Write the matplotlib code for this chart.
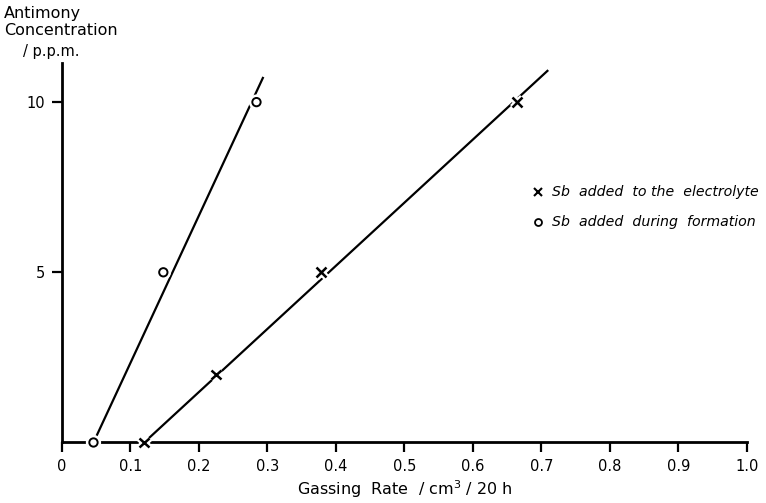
import matplotlib
matplotlib.use('Agg')
import matplotlib.pyplot as plt
import matplotlib.patheffects as pe

# Sb added to the electrolyte (x)
elec_x = [0.120, 0.225, 0.378, 0.664]
elec_y = [0, 2, 5, 10]
# Sb added during formation (o)
form_x = [0.046, 0.148, 0.284]
form_y = [0, 5, 10]

# drawn straight lines (end points)
elec_line_x = [0.120, 0.710]
elec_line_y = [0, 10.94]
form_line_x = [0.046, 0.294]
form_line_y = [0, 10.74]

xticks = [0, 0.1, 0.2, 0.3, 0.4, 0.5, 0.6, 0.7, 0.8, 0.9, 1.0]
xticklabels = ['0', '0.1', '0.2', '0.3', '0.4', '0.5', '0.6', '0.7', '0.8', '0.9', '1.0']
yticks = [5, 10]

plt.rcParams['font.family'] = ['DejaVu Sans']

fig = plt.figure(figsize=(7.66, 5.03), dpi=100)
ax = fig.add_axes([0.0809, 0.1203, 0.8941, 0.7545])

ax.plot(elec_line_x, elec_line_y, color='black', lw=1.6, solid_capstyle='butt')
ax.plot(form_line_x, form_line_y, color='black', lw=1.6, solid_capstyle='butt')

halo = [pe.withStroke(linewidth=5, foreground='white')]
ax.plot(elec_x, elec_y, ls='none', marker='x', ms=7, mew=1.8, color='black',
        path_effects=halo, clip_on=False, zorder=5)
ax.plot(form_x, form_y, ls='none', marker='o', ms=6, mew=1.4, mfc='white', mec='black',
        path_effects=halo, clip_on=False, zorder=5)

ax.set_xlim(0, 1.0)
ax.set_ylim(0, 11.15)
ax.set_xticks(xticks)
ax.set_xticklabels(xticklabels)
ax.set_yticks(yticks)
ax.tick_params(axis='both', direction='out', length=7, width=1.6, labelsize=10.5, pad=5)
for s in ['top', 'right']:
    ax.spines[s].set_visible(False)
for s in ['left', 'bottom']:
    ax.spines[s].set_linewidth(2)

ax.set_xlabel('Gassing  Rate  / cm$^{3}$ / 20 h', fontsize=11.5, labelpad=3)

fig.text(0.005, 0.988, 'Antimony\nConcentration', ha='left', va='top', fontsize=11.5, linespacing=1.2)
fig.text(0.030, 0.912, '/ p.p.m.', ha='left', va='top', fontsize=10.5)

# legend entries
ax.plot([0.695], [7.35], ls='none', marker='x', ms=5.5, mew=1.5, color='black', clip_on=False)
ax.text(0.715, 7.35, 'Sb  added  to the  electrolyte', style='italic', fontsize=10.2, va='center')
ax.plot([0.695], [6.47], ls='none', marker='o', ms=5, mew=1.3, mfc='white', mec='black', clip_on=False)
ax.text(0.715, 6.47, 'Sb  added  during  formation', style='italic', fontsize=10.2, va='center')

fig.savefig('out.png', dpi=100)
